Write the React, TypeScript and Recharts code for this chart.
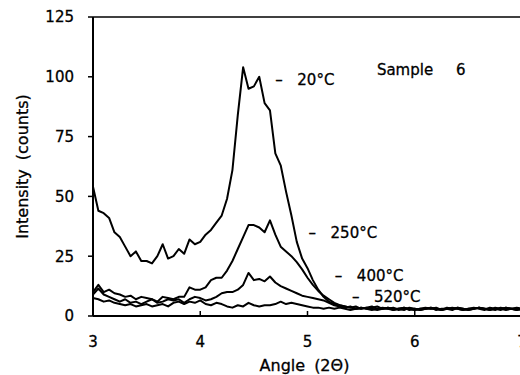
import { LineChart, Line, XAxis, YAxis, ReferenceLine, ReferenceDot } from 'recharts';

// angle (2θ) sample positions
const angles = [
  3.0, 3.05, 3.1, 3.15, 3.2, 3.25, 3.3, 3.35, 3.4, 3.45,
  3.5, 3.55, 3.6, 3.65, 3.7, 3.75, 3.8, 3.85, 3.9, 3.95,
  4.0, 4.05, 4.1, 4.15, 4.2, 4.25, 4.3, 4.35, 4.4, 4.45,
  4.5, 4.55, 4.6, 4.65, 4.7, 4.75, 4.8, 4.85, 4.9, 4.95,
  5.0, 5.05, 5.1, 5.15, 5.2, 5.25, 5.3, 5.35, 5.4, 5.45,
  5.5, 5.55, 5.6, 5.65, 5.7, 5.75, 5.8, 5.85, 5.9, 5.95,
  6.0, 6.05, 6.1, 6.15, 6.2, 6.25, 6.3, 6.35, 6.4, 6.45,
  6.5, 6.55, 6.6, 6.65, 6.7, 6.75, 6.8, 6.85, 6.9, 6.95,
  7.0,
];

const counts20 = [
  54, 44, 43, 41, 35, 33, 29, 25, 27, 23,
  23, 22, 25, 30, 24, 25, 28, 26, 32, 30,
  31, 34, 36, 39, 42, 49, 61, 84, 104, 95,
  96, 100, 89, 86, 68, 63, 52, 42, 31, 24,
  20, 15, 11, 8, 6, 5, 4.5, 4, 3.5, 4,
  3, 3.5, 4, 3, 3.5, 3, 2.5, 3, 3.5, 2.5,
  3, 2.5, 3, 3.5, 2.5, 3, 3, 2.5, 3.5, 3,
  2.5, 3, 3.5, 3, 2.5, 3.5, 3, 2.5, 3, 3.5,
  3,
];

const counts250 = [
  10, 13, 10, 11, 9.5, 9, 8, 8.5, 7, 8,
  7.5, 7, 6, 8, 7.5, 7, 8, 8, 12, 11,
  11, 12, 15, 16, 16, 19, 23, 28, 33, 38,
  38, 37, 35, 40, 34, 29, 27, 25, 22.5, 19.5,
  16, 13, 10.5, 8.5, 7, 5.5, 4.5, 4, 3.5, 3,
  3.5, 3, 3.5, 4, 3, 3, 3.5, 2.5, 3, 3,
  2.5, 3, 3.5, 3, 3, 2.5, 3.5, 3, 3, 2.5,
  3, 3.5, 3, 2.5, 3.5, 3, 2.5, 3.5, 3, 3,
  2.5,
];

const counts400 = [
  9, 11.5, 9, 8, 7, 6, 7, 5.5, 6, 5,
  6, 7, 5.5, 6, 7, 6.5, 7, 5.5, 7, 8,
  7.5, 6.5, 7, 8, 9.5, 10, 10, 11, 13, 18,
  15, 15.5, 14.5, 16.5, 14, 12.5, 11.5, 10.5, 9.5, 8.5,
  8, 7.5, 7, 6.5, 5.5, 4.5, 4, 3.5, 4, 3,
  3, 3.5, 3, 2.5, 3, 3.5, 3, 3, 2.5, 3.5,
  3, 2.5, 3, 3, 3.5, 2.5, 3, 3, 3.5, 3,
  2.5, 3, 3.5, 3, 2.5, 3, 3, 3.5, 3, 2.5,
  3,
];

const counts520 = [
  7.5, 7, 6, 6.5, 5.5, 5, 4.5, 5, 4, 4.5,
  5, 4, 4.5, 5, 4, 5.5, 6, 5, 6, 5.5,
  6.5, 5, 4.5, 5.5, 5, 4, 3.5, 4.5, 4, 5.5,
  4.5, 4, 4.5, 4.5, 5, 6, 5, 5.5, 5, 4.5,
  4, 3.5, 3.5, 3, 3.5, 3, 3.5, 3, 2.5, 3,
  3.5, 3, 2.5, 3, 3, 3.5, 2.5, 3, 3.5, 3,
  2.5, 3, 3, 3.5, 3, 2.5, 3, 3.5, 3, 2.5,
  3, 3, 3.5, 3, 3, 2.5, 3.5, 3, 3, 2.5,
  3,
];

const xTicks = [3, 4, 5, 6, 7];
const yTicks = [0, 25, 50, 75, 100, 125];

// [label, x, y] anchors for the temperature tags, in data units
const tags: [string, number, number][] = [
  ['20°C', 4.7, 98.7],
  ['250°C', 5.01, 34.7],
  ['400°C', 5.255, 16.7],
  ['520°C', 5.414, 7.9],
];

const FONT = '"DejaVu Sans", sans-serif';
// slightly heavier glyphs, closer to the scanned figure
const ink = { fill: '#000', stroke: '#000', strokeWidth: 0.3 };

const data = angles.map((a, i) => ({
  angle: a,
  t20: counts20[i],
  t250: counts250[i],
  t400: counts400[i],
  t520: counts520[i],
}));

function XTick(props: any) {
  const { x, y, payload } = props;
  return (
    <g>
      <line x1={x} y1={y} x2={x} y2={y - 5} stroke="#000" strokeWidth={1.5} />
      <text x={x} y={y + 26} textAnchor="middle" dominantBaseline="central" fontSize={15} fontFamily={FONT} {...ink}>
        {payload.value}
      </text>
    </g>
  );
}

function YTitle(props: any) {
  const { x, y, height } = props.viewBox;
  const cx = x + 22;
  const cy = y + height / 2;
  return (
    <text x={cx} y={cy} transform={`rotate(-90 ${cx} ${cy})`} textAnchor="middle" dominantBaseline="central" fontSize={16} fontFamily={FONT} {...ink}>
      <tspan>Intensity</tspan>
      <tspan dx={9}>(counts)</tspan>
    </text>
  );
}

function XTitle(props: any) {
  const { x, y, width } = props.viewBox;
  return (
    <text x={x + width / 2 - 3} y={y + 49} textAnchor="middle" dominantBaseline="central" fontSize={16} fontFamily={FONT} {...ink}>
      <tspan>Angle</tspan>
      <tspan dx={9}>(2Θ)</tspan>
    </text>
  );
}

const tagLabel = (text: string) => (props: any) => {
  const { x, y } = props.viewBox;
  return (
    <text y={y} dominantBaseline="central" fontSize={15} fontFamily={FONT} {...ink}>
      <tspan x={x}>–</tspan>
      <tspan x={x + 22}>{text}</tspan>
    </text>
  );
};

const sampleLabel = (props: any) => {
  const { x, y } = props.viewBox;
  return (
    <text y={y} dominantBaseline="central" fontSize={15} fontFamily={FONT} {...ink}>
      <tspan x={x}>Sample</tspan>
      <tspan x={x + 79}>6</tspan>
    </text>
  );
};

export default function App() {
  return (
    <div style={{ position: 'fixed', left: 0, top: 0, width: 520, height: 375, overflow: 'hidden', background: '#fff' }}>
      <LineChart width={540} height={375} data={data} margin={{ top: 17, right: 18, bottom: 0, left: 0 }}>
        <XAxis
          dataKey="angle"
          type="number"
          domain={[3, 7]}
          ticks={xTicks}
          height={59}
          tickSize={0}
          tickMargin={0}
          tickLine={false}
          tick={<XTick />}
          axisLine={{ stroke: '#000', strokeWidth: 2 }}
          label={<XTitle />}
        />
        <YAxis
          type="number"
          domain={[0, 125]}
          ticks={yTicks}
          width={93}
          tickSize={5}
          tickMargin={14}
          tickLine={{ stroke: '#000', strokeWidth: 1.5 }}
          axisLine={{ stroke: '#000', strokeWidth: 2 }}
          tick={{ fontSize: 15, fontFamily: FONT, ...ink }}
          label={<YTitle />}
        />
        <ReferenceLine y={125} stroke="#000" strokeWidth={1.5} />
        <Line dataKey="t20" stroke="#000" strokeWidth={2} dot={false} isAnimationActive={false} strokeLinejoin="round" />
        <Line dataKey="t250" stroke="#000" strokeWidth={2} dot={false} isAnimationActive={false} strokeLinejoin="round" />
        <Line dataKey="t400" stroke="#000" strokeWidth={2} dot={false} isAnimationActive={false} strokeLinejoin="round" />
        <Line dataKey="t520" stroke="#000" strokeWidth={2} dot={false} isAnimationActive={false} strokeLinejoin="round" />
        {tags.map(([text, x, y]) => (
          <ReferenceDot key={text} x={x} y={y} r={0} fill="none" stroke="none" label={{ content: tagLabel(text) }} />
        ))}
        <ReferenceDot x={5.647} y={102.9} r={0} fill="none" stroke="none" label={{ content: sampleLabel }} />
      </LineChart>
    </div>
  );
}
